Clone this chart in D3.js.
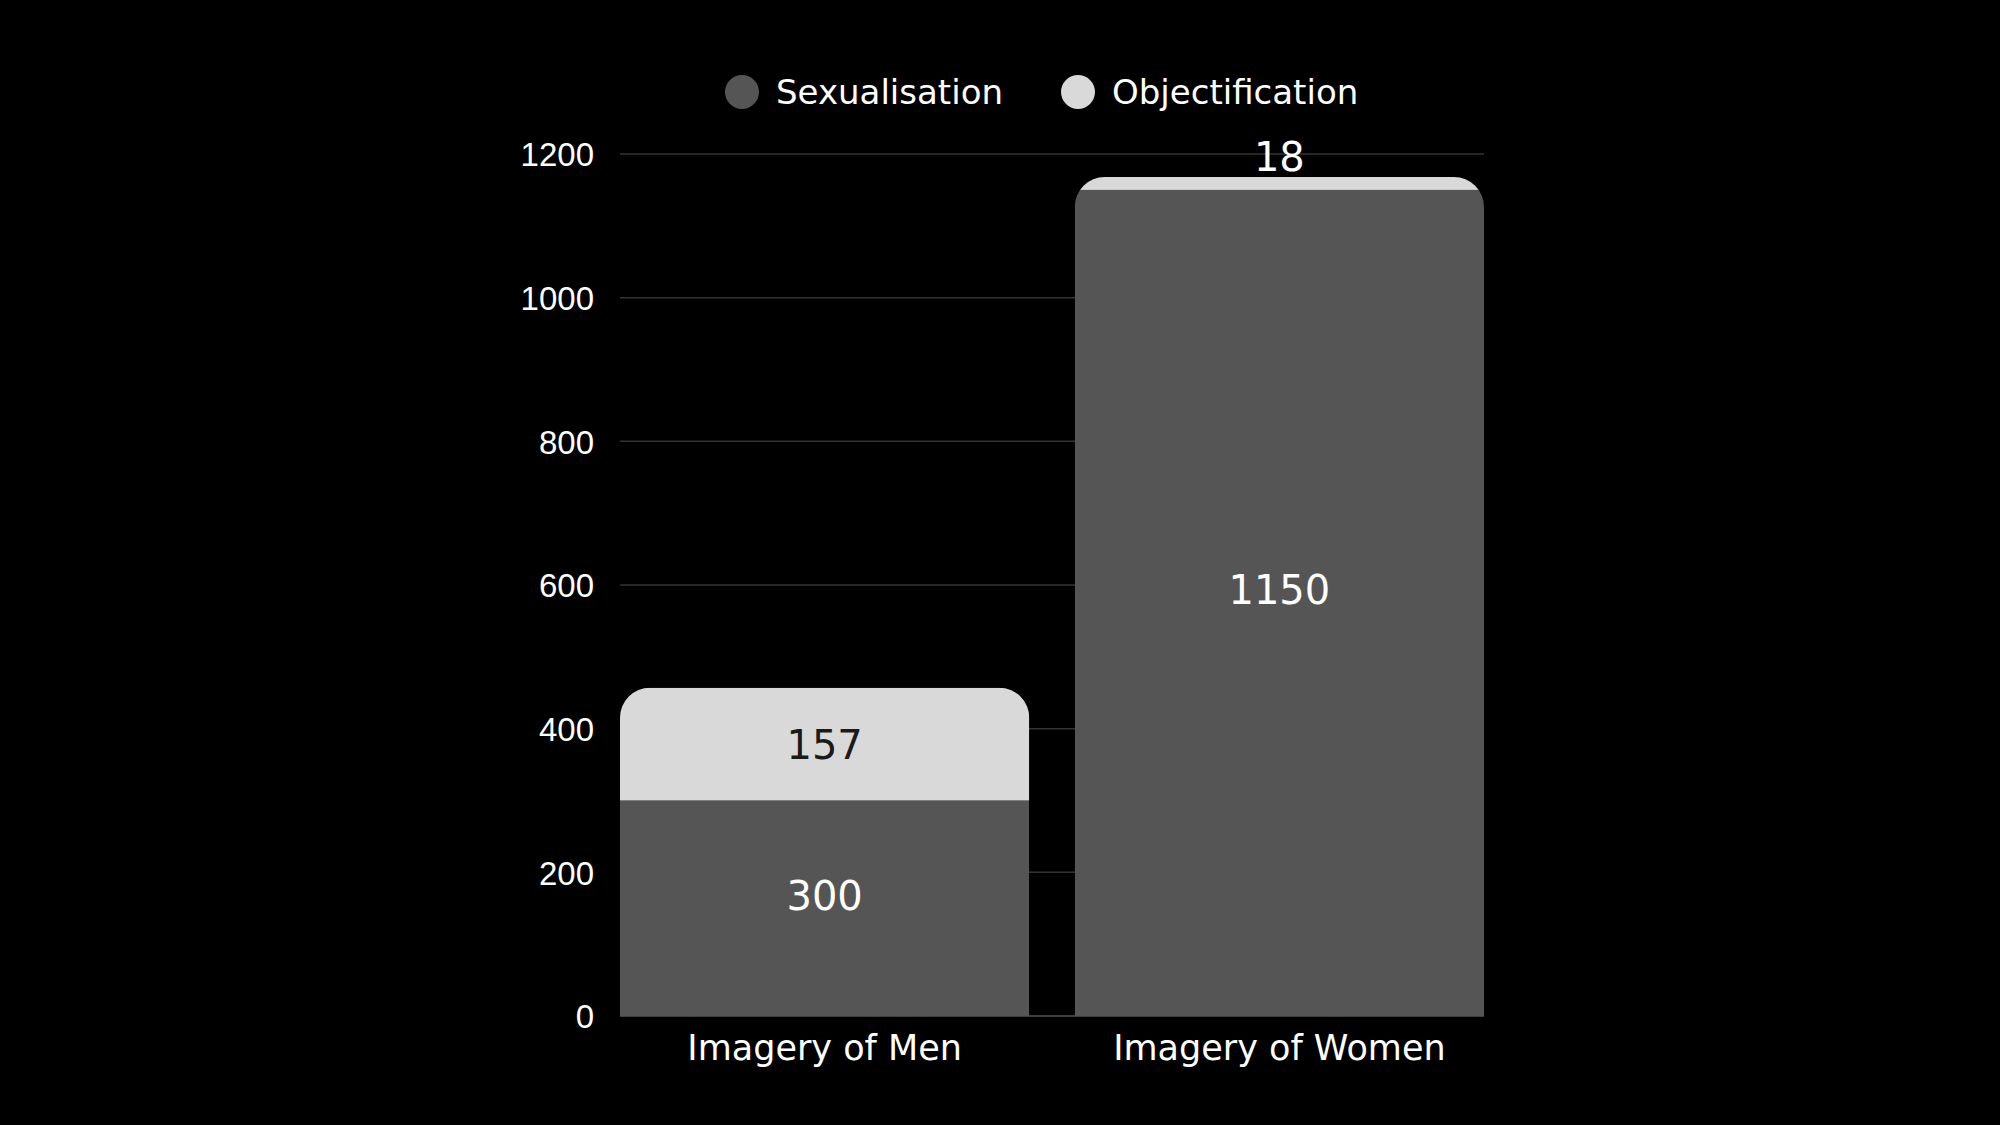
<!DOCTYPE html>
<html>
<head>
<meta charset="utf-8">
<script src="https://cdn.jsdelivr.net/npm/d3@7"></script>
<style>
  html, body { margin: 0; padding: 0; background: #000; }
  svg { display: block; font-family: 'DejaVu Sans', sans-serif; }
  .tick text { fill: #fff; font-size: 33px; }
  .grid line { stroke-width: 1.5; }
  .cat { fill: #fff; font-size: 35px; text-anchor: middle; }
  .legend text { fill: #fff; font-size: 34px; }
  .value { font-size: 40px; text-anchor: middle; }
</style>
</head>
<body>
<script>
// data
const categories = ['Imagery of Men', 'Imagery of Women'];
const sexualisation = [300, 1150];
const objectification = [157, 18];
const y_ticks = [0, 200, 400, 600, 800, 1000, 1200];
const series = [
  { key: 'Sexualisation', values: sexualisation, color: '#555555', text: '#fff' },
  { key: 'Objectification', values: objectification, color: '#d9d9d9', text: '#1a1a1a' },
];

const W = 2000, H = 1125;
const svg = d3.select('body').append('svg')
  .attr('width', W)
  .attr('height', H);

const x = d3.scaleBand()
  .domain(categories)
  .range([620, 1484])
  .paddingInner(0.1)
  .paddingOuter(0);
const y = d3.scaleLinear()
  .domain([0, 1200])
  .range([1016, 154]);

// grid + axis
const grid = svg.append('g').attr('class', 'grid');
grid.selectAll('line')
  .data(y_ticks)
  .join('line')
    .attr('x1', x.range()[0])
    .attr('x2', x.range()[1])
    .attr('y1', d => y(d))
    .attr('y2', d => y(d))
    .attr('stroke', d => d === 0 ? '#555' : '#333');

const yAxis = svg.append('g')
  .attr('transform', `translate(${x.range()[0]},0)`)
  .call(d3.axisLeft(y).tickValues(y_ticks).tickFormat(d3.format('d')).tickSize(0).tickPadding(26));
yAxis.select('.domain').remove();
yAxis.selectAll('.tick text').attr('fill', '#fff').attr('dy', '0.36em');

// stack the data
const rows = categories.map((c, i) => {
  const row = { category: c };
  series.forEach(s => { row[s.key] = s.values[i]; });
  return row;
});
const stacked = d3.stack().keys(series.map(s => s.key))(rows);

// rounded-top clip per bar
const r = 30;
const defs = svg.append('defs');
rows.forEach((row, i) => {
  const total = d3.sum(series, s => row[s.key]);
  const x0 = x(row.category), x1 = x0 + x.bandwidth();
  const top = y(total), bottom = y(0);
  const p = d3.path();
  p.moveTo(x0, bottom);
  p.lineTo(x0, top + r);
  p.arcTo(x0, top, x0 + r, top, r);
  p.lineTo(x1 - r, top);
  p.arcTo(x1, top, x1, top + r, r);
  p.lineTo(x1, bottom);
  p.closePath();
  defs.append('clipPath').attr('id', `clip-${i}`)
    .append('path').attr('d', p.toString());
});

const layers = svg.selectAll('g.layer')
  .data(stacked)
  .join('g')
    .attr('class', 'layer')
    .attr('fill', (d, i) => series[i].color);

layers.selectAll('rect')
  .data(d => d)
  .join('rect')
    .attr('clip-path', (d, i) => `url(#clip-${i})`)
    .attr('x', d => x(d.data.category))
    .attr('width', x.bandwidth())
    .attr('y', d => y(d[1]))
    .attr('height', d => y(d[0]) - y(d[1]));

// value labels (small segments get their label above the bar)
const segH = d => y(d[0]) - y(d[1]);
stacked.forEach((layer, si) => {
  svg.append('g').selectAll('text')
    .data(layer)
    .join('text')
      .attr('class', 'value')
      .attr('x', d => x(d.data.category) + x.bandwidth() / 2)
      .attr('y', d => {
        if (segH(d) < 40) return y(d[1]) - 6;
        const mid = (y(d[0]) + y(d[1])) / 2;
        return si === 0 ? mid - 13 : mid;
      })
      .attr('dy', d => segH(d) < 40 ? 0 : '0.36em')
      .attr('fill', d => segH(d) < 40 ? '#fff' : series[si].text)
      .text(d => d[1] - d[0]);
});

// category labels
svg.append('g').selectAll('text')
  .data(categories)
  .join('text')
    .attr('class', 'cat')
    .attr('x', d => x(d) + x.bandwidth() / 2)
    .attr('y', 1060)
    .text(d => d);

// legend
const legendPos = [742, 1078];
const legend = svg.append('g').attr('class', 'legend')
  .selectAll('g')
  .data(series)
  .join('g')
    .attr('transform', (d, i) => `translate(${legendPos[i]},92)`);
legend.append('circle').attr('r', 17).attr('fill', d => d.color);
legend.append('text')
  .attr('x', 34)
  .attr('dy', '0.36em')
  .text(d => d.key);
</script>
</body>
</html>
